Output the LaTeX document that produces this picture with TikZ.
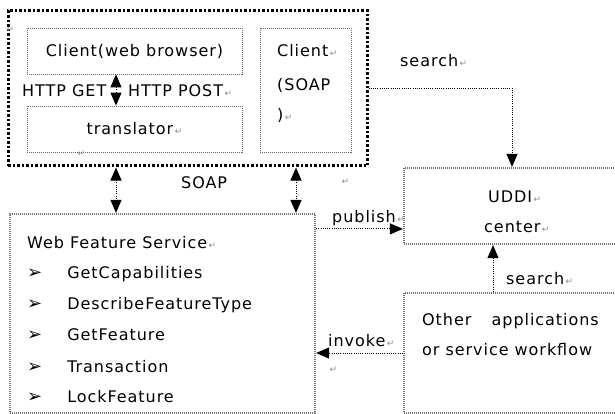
\documentclass[tikz,border=0pt]{standalone}
\usepackage{fontspec}
\setmainfont{DejaVu Sans}[LetterSpace=6]
\usetikzlibrary{arrows.meta,calc}

\newcommand{\pmark}{{\fontsize{9}{9}\selectfont\color{black!45}\,↵}}

\begin{document}
\begin{tikzpicture}[x=1pt, y=-1pt,
	font=\fontsize{16}{18}\selectfont,
	every node/.style={inner sep=0pt},
	txt/.style={anchor=base west},
	outerbox/.style={draw, line width=3pt, dash pattern=on 2.5pt off 2pt},
	cellbox/.style={draw=black!60, line width=0.8pt, dash pattern=on 1pt off 1pt},
	servbox/.style={draw=black!55, line width=2.2pt, dash pattern=on 1pt off 1pt},
	link/.style={draw=black, line width=1pt, dash pattern=on 1pt off 1.2pt, -{Triangle[length=13pt,width=11pt]}},
	twolink/.style={link, {Triangle[length=13pt,width=11pt]}-{Triangle[length=13pt,width=11pt]}}]
	\useasboundingbox (0,0) rectangle (615,414);
	\clip (0,0) rectangle (615,414);

	% client side
	\node[outerbox, minimum width=359pt, minimum height=155pt] (frame) at (187.5,88.5) {};
	\node[cellbox, minimum width=215pt, minimum height=46pt] (browser) at (134.5,51) {Client(web browser)};
	\node[cellbox, minimum width=215pt, minimum height=46pt] (translator) at (134.5,129) {translator\pmark};
	\node[cellbox, minimum width=91pt, minimum height=124pt] (soapclient) at (305.5,90) {};
	\node[txt] (c1) at (277,57) {Client\pmark};
	\node[txt] (c2) at (277,91) {(SOAP};
	\node[txt] (c3) at (277,121) {)\pmark};
	\node[txt] (httpget) at (22,97) {HTTP GET};
	\node[txt] (httppost) at (128,97) {HTTP POST\pmark};

	% services
	\node[servbox, minimum width=305pt, minimum height=199pt] (wfs) at (162.5,313.5) {};
	\node[servbox, minimum width=216pt, minimum height=76pt] (uddi) at (512,206) {};
	\node[servbox, minimum width=216pt, minimum height=120pt] (other) at (512,353) {};

	\node[txt] (wfstitle) at (27,248) {Web Feature Service\pmark};
	\foreach \y/\op in {278/GetCapabilities, 309/DescribeFeatureType, 340/GetFeature, 372/Transaction, 402/LockFeature}
		\node[txt] at (27,\y) {{\fontsize{18}{18}\selectfont ➢}\hspace{25pt}\op};
	\node[txt] (uddi1) at (488,202) {UDDI\pmark};
	\node[txt] (uddi2) at (484,232) {center\pmark};
	\node[txt] (other1) at (422,325) {Other};
	\node[anchor=base east] (other2) at (599,325) {applications};
	\node[txt] (other3) at (422,355) {or service workflow};

	% connectors
	\draw[twolink] ([xshift=-18.5pt]browser.south) -- ([xshift=-18.5pt]translator.north);
	\draw[twolink] ([xshift=-18.5pt]translator.south |- frame.south) -- ([xshift=-18.5pt]translator.south |- wfs.north);
	\draw[twolink] ([xshift=-9.5pt]soapclient.south |- frame.south) -- ([xshift=-9.5pt]soapclient.south |- wfs.north);
	\draw[link] (frame.east) -| (uddi.north);
	\draw[link] ([yshift=-16pt]wfs.north east) -- ([yshift=-16pt]wfs.north east -| uddi.west);
	\draw[link] ([xshift=-19pt]other.north) -- ([xshift=-19pt]other.north |- uddi.south);
	\draw[link] (other.west) -- (other.west -| wfs.east);

	\node[txt] (soaplabel) at (181,189) {SOAP};
	\node[txt] (search1) at (400,67) {search\pmark};
	\node[txt] (publish) at (332,222) {publish\pmark};
	\node[txt] (search2) at (506,284) {search\pmark};
	\node[txt] (invoke) at (328,346) {invoke\pmark};

	% stray paragraph marks
	\foreach \x/\y in {5/33, 76/157, 340/184, 328/372}
		\node[txt] at (\x,\y) {\pmark};
\end{tikzpicture}
\end{document}
